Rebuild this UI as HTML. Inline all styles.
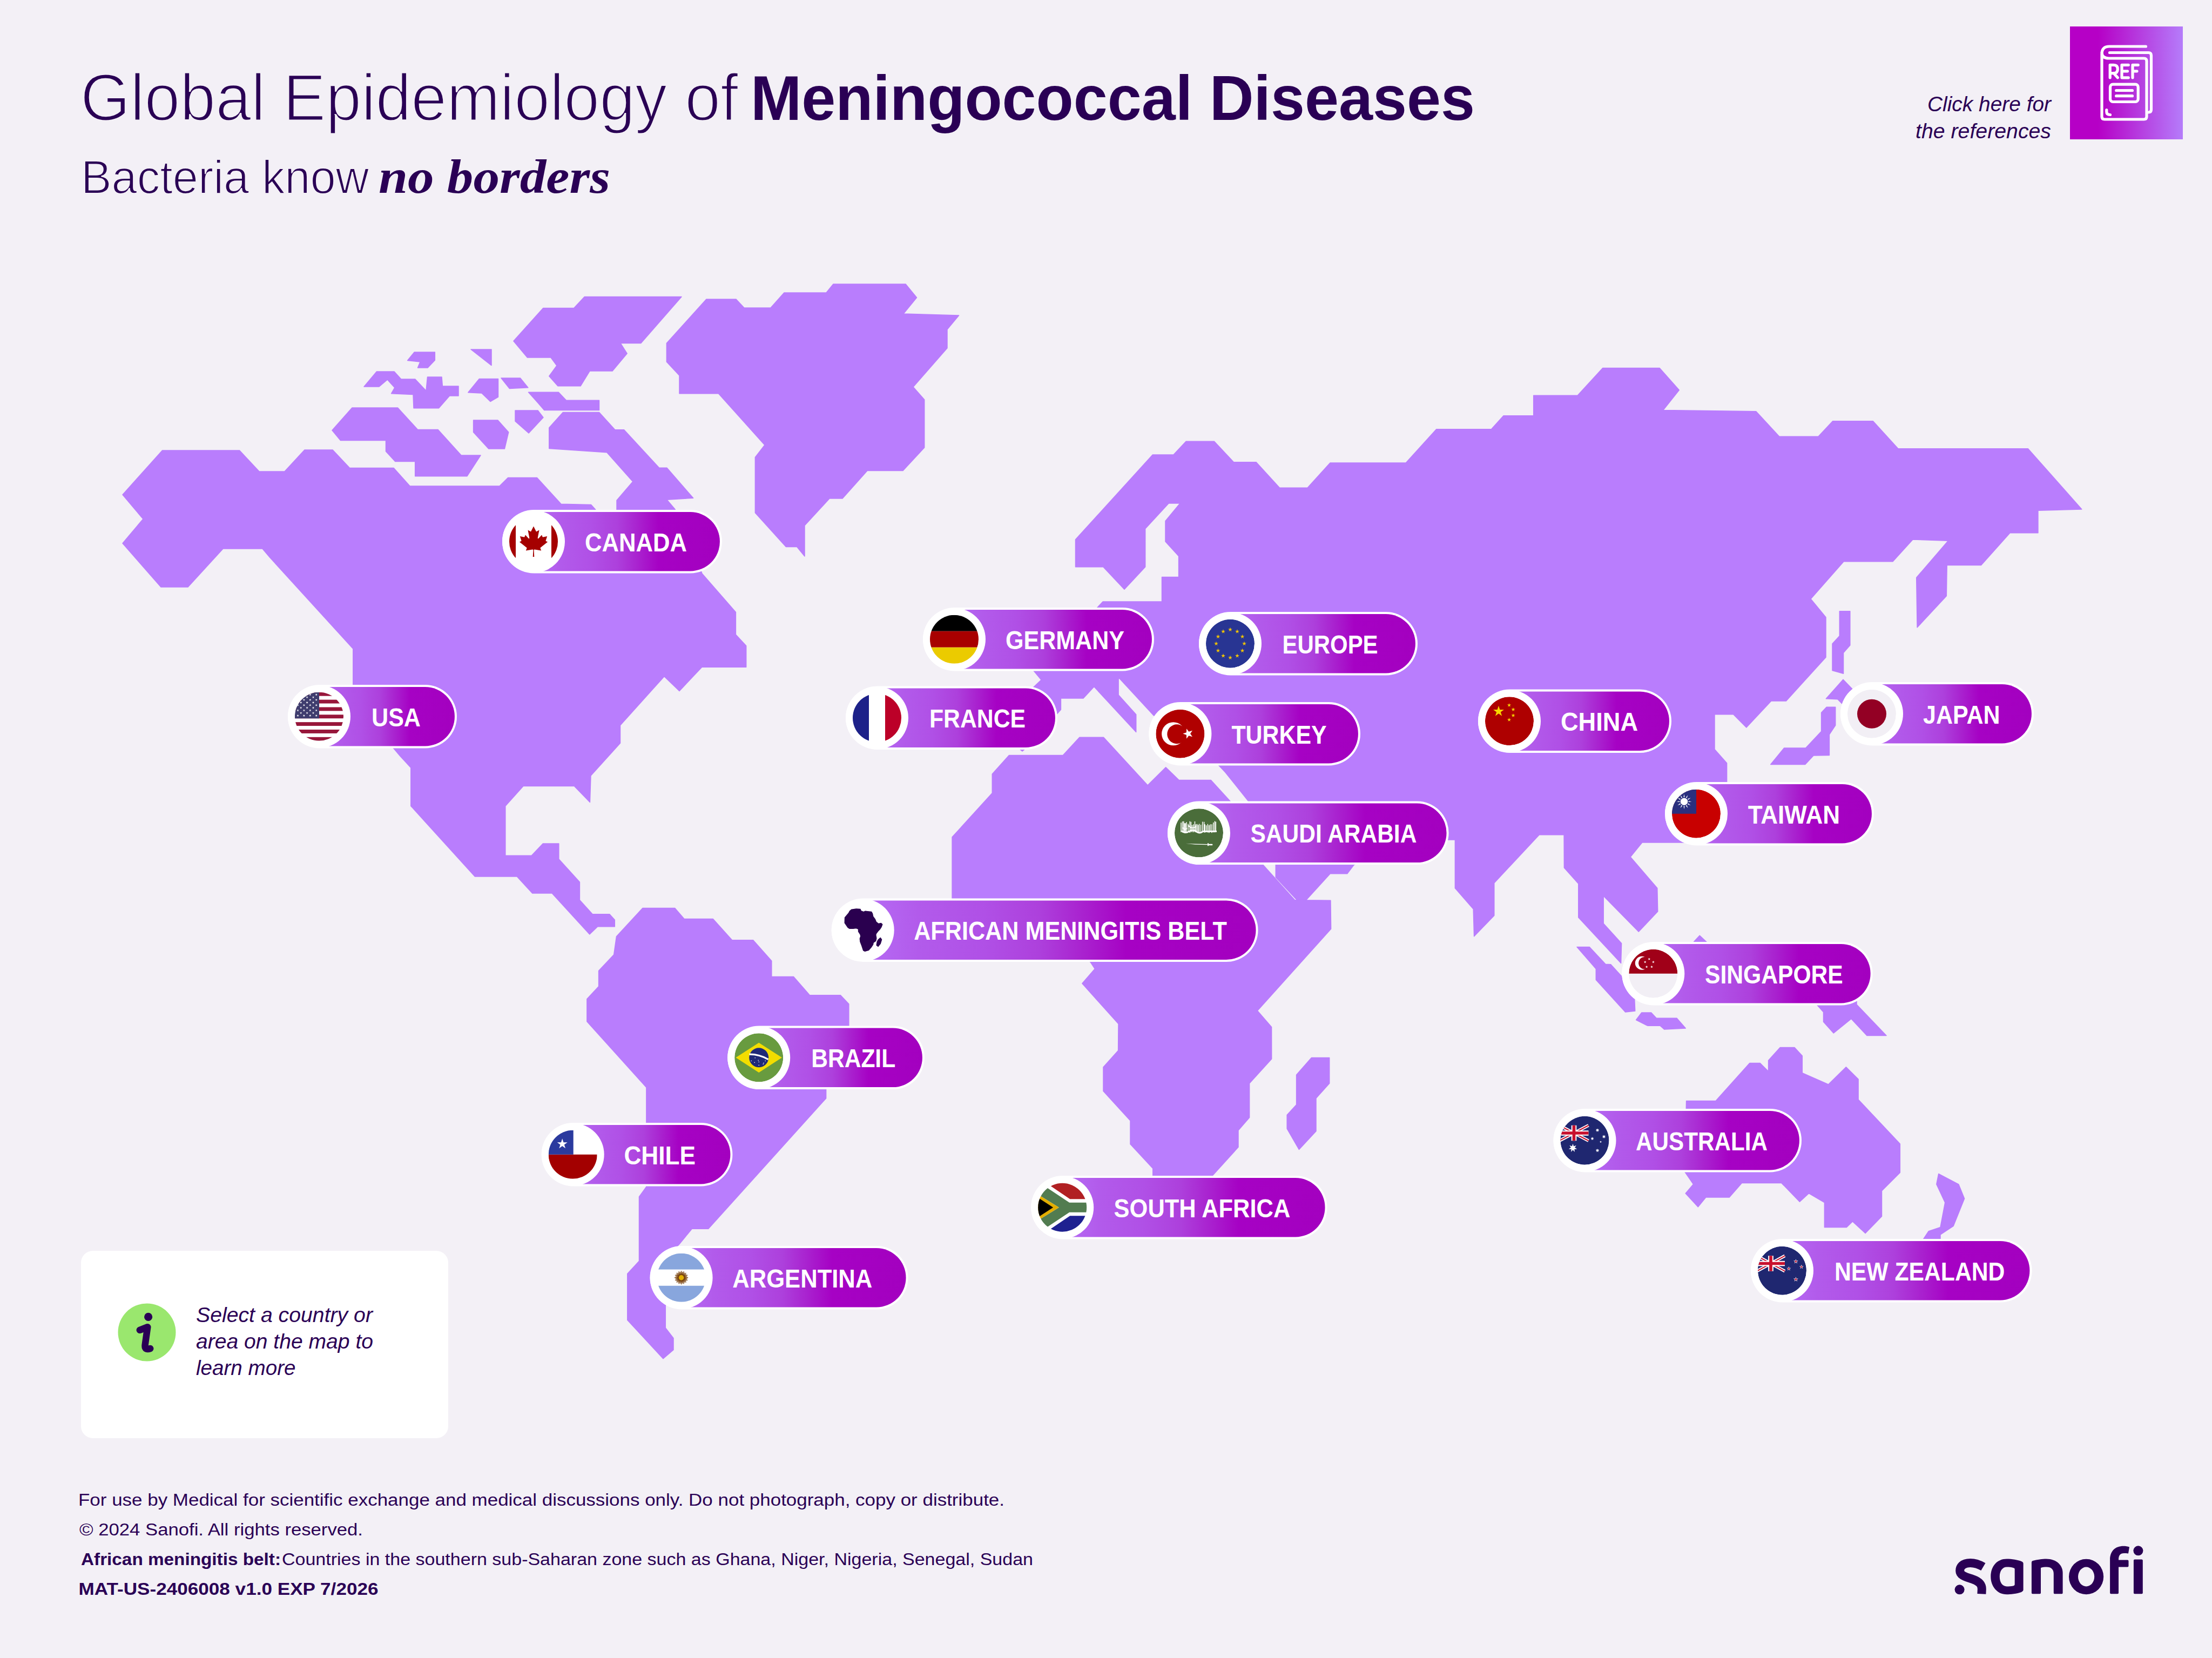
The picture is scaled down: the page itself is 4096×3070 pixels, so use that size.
<!DOCTYPE html>
<html><head><meta charset="utf-8"><title>Global Epidemiology of Meningococcal Diseases</title>
<style>
html,body{margin:0;padding:0;background:#F3F0F6;}
body{width:4096px;height:3070px;overflow:hidden;position:relative;font-family:"Liberation Sans",sans-serif;}
svg{position:absolute;left:0;top:0;display:block;}
</style></head><body>
<svg width="4096" height="3070" viewBox="0 0 4096 3070">
<defs>
<linearGradient id="pg" x1="0" y1="0" x2="1" y2="0">
<stop offset="0" stop-color="#B66CF5"/><stop offset="0.14" stop-color="#B25BEB"/><stop offset="0.31" stop-color="#B050E6"/><stop offset="0.45" stop-color="#AD40DC"/><stop offset="0.56" stop-color="#A922CF"/><stop offset="0.67" stop-color="#A602C4"/><stop offset="1" stop-color="#A300BF"/>
</linearGradient>
<linearGradient id="rg" x1="0" y1="0" x2="1" y2="0">
<stop offset="0" stop-color="#B600C6"/><stop offset="0.25" stop-color="#B600C6"/><stop offset="1" stop-color="#B57CFA"/>
</linearGradient>
<clipPath id="fc"><circle r="45"/></clipPath>
</defs>
<rect width="4096" height="3070" fill="#F3F0F6"/>

<text x="149" y="222.5" font-family="Liberation Sans" font-size="122" fill="#2A0055" stroke="#F3F0F6" stroke-width="3" textLength="1218" lengthAdjust="spacingAndGlyphs">Global Epidemiology of</text>
<text x="1390" y="222" font-family="Liberation Sans" font-weight="bold" font-size="116" fill="#2A0055" textLength="1341" lengthAdjust="spacingAndGlyphs">Meningococcal Diseases</text>
<text x="150" y="357.5" font-family="Liberation Sans" font-size="87" fill="#2A0055" stroke="#F3F0F6" stroke-width="2" textLength="533" lengthAdjust="spacingAndGlyphs">Bacteria know</text>
<text x="701" y="357" font-family="Liberation Serif" font-weight="bold" font-style="italic" font-size="88" fill="#2A0055" textLength="429" lengthAdjust="spacingAndGlyphs">no borders</text>
<text x="3569" y="205.5" font-family="Liberation Sans" font-style="italic" font-size="38" fill="#2A0055" textLength="229" lengthAdjust="spacingAndGlyphs">Click here for</text>
<text x="3547" y="255.5" font-family="Liberation Sans" font-style="italic" font-size="38" fill="#2A0055" textLength="251" lengthAdjust="spacingAndGlyphs">the references</text>
<rect x="3833" y="49" width="209" height="209" fill="url(#rg)"/>
<g fill="none" stroke="#fff" stroke-width="5.2" stroke-linecap="round" stroke-linejoin="round">
<path d="M3973.5 86 H3906 Q3892 86 3892 100 V216 Q3892 221 3897 221 H3970 Q3975 221 3975 216 V113 Q3975 108 3970 108 H3905 Q3892 108 3892 97"/>
<path d="M3906.5 97.5 H3978.5 Q3983.5 97.5 3983.5 102.5 V203 Q3983.5 208 3978.5 208"/>
<rect x="3907.5" y="156.2" width="51.7" height="32.3" rx="5"/>
<path d="M3918.7 167.5 H3948.5 M3918.7 177.7 H3948.5"/>
<path d="M3900.8 203.5 V207 Q3900.8 212.5 3907.5 212.5"/>
<path d="M3907.2 143.8 V120.3 H3914 Q3921.3 120.3 3921.3 128 Q3921.3 135.6 3914 135.6 H3907.2 M3914 135.6 L3921.3 143.8"/>
<path d="M3941.3 120.3 H3929 V143.8 H3941.3 M3929 131.8 H3939.5"/>
<path d="M3959.2 120.3 H3949 V143.8 M3949 131.8 H3957"/>
</g>
<path fill="#B97DFD" stroke="#B97DFD" stroke-width="1.5" stroke-linejoin="round" d="M227,916 L300.6,834 L443.5,834 L480,873 L527,873 L564,833 L616,833 L647.5,866.5 L729,866.5 L759,900 L925,900 L940.6,884.5 L994.4,884.5 L1039,933.3 L1094.5,934.5 L1102.6,943.5 L1110,960 L1142,960 L1142,943.5 L1142,926.4 L1171.8,891.8 L1123.8,837.7 L1016.8,830.4 L1016.8,792 L1042.4,763.6 L1109.5,763.6 L1138.8,795.8 L1155.5,795.8 L1220.6,866.2 L1234.9,866.2 L1283.7,922.3 L1234.9,925.2 L1248.7,941.4 L1262,960 L1300,1062 L1362.4,1133.5 L1362.4,1175 L1381.7,1195.7 L1381.7,1235.2 L1299.7,1235.2 L1258,1279.5 L1230,1252.4 L1148.5,1343 L1148.5,1376 L1094,1436.2 L1092.4,1485.4 L1063.3,1455.4 L969,1455.4 L935.8,1492.4 L935.8,1584.2 L984.2,1584.2 L1005.4,1562 L1034.8,1562 L1034.8,1590.8 L1073.4,1633.2 L1073.4,1666.5 L1097.2,1692.7 L1128.8,1692.7 L1138.3,1703.2 L1138.3,1715.8 L1106.6,1715.8 L1091.8,1730 L1022.2,1654.1 L985.8,1654.1 L957.3,1623.1 L879.4,1623.1 L760.8,1492.4 L760.8,1421.5 L741,1400 L729.8,1386.8 L653.8,1300 L653.8,1201.3 L500,1032.5 L486,1016 L413,1016 L348,1087 L298,1087 L227,1006 L265,961Z M652,755 L736.5,755 L773.5,795.6 L811,795.6 L854,843 L890,843 L865,881.7 L768.7,881.7 L768.7,854.6 L731.8,854.6 L714.5,835.7 L714.5,815.5 L630.5,815.5 L615,796.7Z M697.5,688 L730,688 L742.7,702 L768.7,702 L789,723.6 L791.5,698 L818,698 L819.4,715 L849,715 L849,733 L832.4,733 L812.5,755.8 L766,755.8 L765,730.5 L724.6,728.7 L730.8,717.8 L717.4,703 L702,716 L674,716Z M767.3,652 L805.3,652 L805.3,667 L792,681 L773.5,681 L778,670 L754.6,667.5Z M872,647 L910,647 L910,676.6Z M887.4,701.5 L922.5,701.5 L922.5,735 L908,743.5 L892,728 L866.8,726.8Z M928,700 L963.4,700 L977.8,717.8 L943.5,719.6Z M876.6,777.9 L921.8,777.9 L941.7,800.3 L934.4,831 L904.8,831 L876.6,800.3Z M954,760 L996,760 L1006,773 L979,802 L954,780Z M978.5,726.2 L1034.3,726.2 L1048.5,741.3 L1109.5,741.3 L1109.5,759.6 L1007.8,759.6 L996.4,746.2Z M1082.3,549.6 L1262,549.6 L1186.8,635.5 L1149,635.5 L1161.2,654.6 L1134,687 L1092,687 L1075,714.8 L1033,714.8 L1016.8,696.5 L1031,677 L1020,662 L976.5,662 L950.9,631.4 L1005.8,570.4 L1062.7,570.4Z M1308,554 L1363,554 L1378,570 L1427,570 L1452,542 L1530,542 L1543,526 L1677,526 L1697.5,551 L1673,581 L1775.6,584 L1754,610 L1754,644.4 L1691,716.5 L1711.7,740 L1711.7,828.7 L1672,871.5 L1606,871.5 L1560,923 L1536,923 L1490,973 L1490,1030 L1475.7,1012.6 L1455.4,1012.6 L1398.4,949.6 L1398.4,846.6 L1416,824 L1330.5,728.7 L1258,728.7 L1258,695.3 L1234.4,670 L1234.4,635.5Z M1991.5,999 L2134.4,842 L2173,842 L2196.2,817.2 L2248.4,817.2 L2284.5,855.8 L2326.1,855.7 L2369.5,903.2 L2421.1,903.2 L2463.1,857 L2603.3,857 L2659.8,794.7 L2761.5,794.7 L2784.1,769.8 L2839.7,769.8 L2839.7,732.3 L2921.2,732.3 L2967.8,681.6 L3073.1,681.6 L3109.3,722.3 L3079.9,759.4 L3251.7,761.7 L3294.7,808.2 L3367,808.2 L3393.7,779.7 L3468.3,779.7 L3514.8,830.8 L3755.3,830.8 L3854.8,943 L3773.9,945.2 L3773.9,986.8 L3721.9,986.8 L3668.5,1046.5 L3605.2,1046.5 L3604.3,1103.4 L3550.1,1161.8 L3548.7,1069.5 L3607.5,1001.3 L3542,999 L3504.9,1039.7 L3414,1039.7 L3353,1108.9 L3381,1143 L3381,1217 L3307.4,1297.9 L3279.7,1297.9 L3233.8,1346.9 L3209.7,1322.7 L3175,1322.7 L3175,1387.4 L3197.6,1413 L3197.6,1446.7 L3197.6,1500 L3130,1560.1 L3120.4,1560.1 L3040.8,1560.1 L3019.1,1586.7 L3068.8,1644.6 L3069.7,1687.8 L3034.4,1725.1 L2969.2,1658.9 L2969.2,1710 L3002.6,1746.7 L3001.6,1783.4 L2922.8,1698.8 L2922.8,1636.3 L2896.4,1606.8 L2896.1,1545.7 L2850.2,1545.7 L2766.8,1634.9 L2766.8,1695.2 L2729.6,1733.8 L2728.2,1683.2 L2694.4,1644.6 L2694.4,1555 L2660,1555 L2540,1590 L2507.4,1601 L2494.7,1617.8 L2463.1,1617.8 L2418.7,1666.4 L2401.5,1666.4 L2362.3,1624.4 L2362.3,1601 L2311.1,1482.7 L2268.9,1430 L2250,1410 L2136.3,1324.7 L2071.1,1254.2 L2071.1,1286.7 L2103.7,1323 L2103.7,1355.5 L2025.9,1271.5 L2006,1292.9 L1964.4,1292.9 L1964.4,1313.9 L1950,1330 L1906,1380 L1893,1391 L1880,1380 L1800,1340 L1880,1300 L1910,1276 L1928.2,1258.9 L1913.7,1241.5 L1900,1200 L2030,1127 L2042.2,1114.1 L2151.5,1114.1 L2151.5,1068.5 L2182.6,1068.5 L2182.6,1029.8 L2158,1002.7 L2158,964.7 L2185.1,932.1 L2164.1,932.1 L2120.7,979.1 L2120.7,1049.7 L2082,1091.3 L2042.9,1049.7 L1991.5,1049.7Z M1868.5,1398.4 L1968.3,1398.4 L1999,1365.2 L2043.5,1365.2 L2125.1,1454.1 L2158.7,1420.9 L2182.9,1444.4 L2242.3,1444.4 L2277.9,1483.6 L2338.5,1601 L2397.5,1666.4 L2463.9,1667.2 L2464.6,1720 L2328.4,1871.5 L2354.6,1901.8 L2354.7,1960.8 L2313.6,2006 L2313.6,2069.3 L2293,2093 L2293,2124 L2245,2176.9 L2245,2200 L2134.8,2200 L2134.8,2163.6 L2093,2118.4 L2093,2075 L2043,2020.3 L2043,1976 L2070.6,1945.3 L2071,1895.7 L2003.9,1821 L2027.3,1793.9 L2019,1781 L1900,1720 L1763.1,1700 L1763.1,1550.1 L1837.3,1468.4 L1837.3,1433.3Z M2428.5,1958.5 L2461.7,1958.5 L2461.7,2006 L2437,2033.5 L2437,2094.6 L2405.4,2128.5 L2383.2,2089.9 L2383.2,2064.6 L2400.6,2045.6 L2400.6,1990.2Z M1190,1681.5 L1249.7,1681.5 L1267,1701.6 L1320.3,1701.6 L1355.6,1740.7 L1394.6,1740.7 L1428.8,1779.2 L1428.8,1808.5 L1469.5,1808.5 L1499.4,1842.7 L1556.4,1842.7 L1571.8,1859 L1571.8,1902 L1529.6,1960 L1529.6,2033.7 L1311.7,2275.2 L1281.3,2275.2 L1257.7,2303.9 L1232.3,2330 L1232.3,2458.8 L1247,2477.8 L1247,2499.5 L1228,2515.8 L1161.8,2444.2 L1161.8,2358.4 L1183.5,2335 L1183.5,2216 L1196.9,2197.5 L1196.9,2013.4 L1086.9,1891.6 L1086.9,1849.8 L1108.6,1826.4 L1108.6,1797.6 L1136.7,1767.7 L1141.5,1733.9Z M3296.3,1939.5 L3322.9,1939.5 L3337.3,1955 L3337.3,1986.8 L3385.6,2008 L3418.4,1975.7 L3441.1,1998.4 L3441.1,2036 L3518.3,2118 L3518.3,2171.1 L3484.5,2204.9 L3484.5,2252.2 L3454.1,2283.5 L3430.4,2261.8 L3419.4,2272.4 L3378.4,2272.4 L3378.4,2226.6 L3349.4,2209.7 L3332.5,2225.2 L3298.7,2190.4 L3225.4,2190.4 L3202.2,2217 L3158.8,2217 L3144.3,2234.8 L3121.2,2209.7 L3135.6,2192.8 L3120,2170 L3122.6,2038.4 L3177.1,2038.4 L3239.9,1968.5 L3259.2,1968.5 L3274.6,1983.9 L3274.6,1963.6Z M3589.7,2173.5 L3626.8,2192.8 L3637.5,2219.4 L3617.2,2270 L3593,2286 L3593,2294.1 L3561.7,2294.1 L3571.3,2279.7 L3593,2272.4 L3601.7,2226.6 L3585.8,2192.8Z M3364,1830 L3438,1830 L3438,1860 L3493,1917.5 L3457,1917.5 L3428,1886.5 L3395.3,1913 L3376.5,1892 L3376.5,1874 L3364,1860Z M2920.1,1753.4 L2943.3,1753.4 L2973,1785.3 L2982.7,1785.7 L3002.6,1807.5 L3026.7,1849 L3027.7,1872.1 L3009.7,1874.1 L2955.3,1814.2 L2955.3,1794Z M3039.8,1875 L3057.6,1875 L3067.2,1885.3 L3104.9,1885.3 L3121.3,1904 L3081.7,1905.9 L3074,1899.2 L3050.8,1899.2 L3029.6,1888.5Z M3137.7,1742.4 L3147.3,1732.2 L3158,1742.4 L3200,1780 L3100,1790Z M3406.3,1131.8 L3425.8,1131.8 L3425.8,1194.8 L3413.5,1208.7 L3413.5,1247.3 L3393,1241.5 L3393,1191.9 L3406.3,1177.5Z M3413,1258.3 L3430.1,1276 L3440,1300 L3411,1303 L3402.8,1294.8 L3381.3,1293.8Z M3382.3,1309.2 L3398.7,1309.2 L3398.7,1343 L3387.4,1360 L3387.4,1398.4 L3358.1,1399 L3342.7,1415.4 L3278.7,1415.4 L3303.7,1385.1 L3343.7,1385.1 L3372.6,1354.3 L3372.6,1319.4Z"/>
<g>
<rect x="930" y="944" width="407.0" height="117.5" rx="58.75" fill="#fff"/>
<path d="M988,948 H1278.2 A54.75,54.75 0 0 1 1278.2,1057.5 H988 Z" fill="url(#pg)"/>
<circle cx="988" cy="1002.75" r="58" fill="#fff"/>
<g transform="translate(988,1002.75)" clip-path="url(#fc)"><circle r="45" fill="#fff"/><rect x="-45" y="-45" width="12" height="90" fill="#A50000"/><rect x="33" y="-45" width="12" height="90" fill="#A50000"/><path transform="scale(0.0140)" d="M0 -15 m-90 2030 45-863a95 95 0 0 0-111-98l-859 151 116-320a65 65 0 0 0-20-73l-941-762 212-99a65 65 0 0 0 34-79l-186-572 542 115a65 65 0 0 0 73-38l105-247 423 454a65 65 0 0 0 111-57l-204-1052 327 189a65 65 0 0 0 91-27l332-652 332 652a65 65 0 0 0 91 27l327-189-204 1052a65 65 0 0 0 111 57l423-454 105 247a65 65 0 0 0 73 38l542-115-186 572a65 65 0 0 0 34 79l212 99-941 762a65 65 0 0 0-20 73l116 320-859-151a95 95 0 0 0-111 98l45 863z" fill="#A50000"/></g>
<text x="1083.0" y="1020.5" font-family="Liberation Sans" font-weight="bold" font-size="48" fill="#fff" textLength="189.0" lengthAdjust="spacingAndGlyphs">CANADA</text>
</g>
<g>
<rect x="1709" y="1125" width="428.0" height="117.5" rx="58.75" fill="#fff"/>
<path d="M1767,1129 H2078.2 A54.75,54.75 0 0 1 2078.2,1238.5 H1767 Z" fill="url(#pg)"/>
<circle cx="1767" cy="1183.75" r="58" fill="#fff"/>
<g transform="translate(1767,1183.75)" clip-path="url(#fc)"><rect x="-45" y="-45" width="90" height="30" fill="#000"/><rect x="-45" y="-15" width="90" height="30" fill="#A80000"/><rect x="-45" y="15" width="90" height="30" fill="#EBCB00"/></g>
<text x="1862.0" y="1201.5" font-family="Liberation Sans" font-weight="bold" font-size="48" fill="#fff" textLength="220.0" lengthAdjust="spacingAndGlyphs">GERMANY</text>
</g>
<g>
<rect x="2220" y="1133" width="405.0" height="117.5" rx="58.75" fill="#fff"/>
<path d="M2278,1137 H2566.2 A54.75,54.75 0 0 1 2566.2,1246.5 H2278 Z" fill="url(#pg)"/>
<circle cx="2278" cy="1191.75" r="58" fill="#fff"/>
<g transform="translate(2278,1191.75)" clip-path="url(#fc)"><circle r="45" fill="#283593"/><path d="M0.00,-30.20 L0.94,-27.30 L3.99,-27.30 L1.53,-25.50 L2.47,-22.60 L0.00,-24.40 L-2.47,-22.60 L-1.53,-25.50 L-3.99,-27.30 L-0.94,-27.30Z" fill="#F2C500"/><path d="M13.00,-26.72 L13.94,-23.81 L16.99,-23.81 L14.53,-22.02 L15.47,-19.12 L13.00,-20.91 L10.53,-19.12 L11.47,-22.02 L9.01,-23.81 L12.06,-23.81Z" fill="#F2C500"/><path d="M22.52,-17.20 L23.46,-14.30 L26.51,-14.30 L24.04,-12.50 L24.99,-9.60 L22.52,-11.40 L20.05,-9.60 L20.99,-12.50 L18.52,-14.30 L21.57,-14.30Z" fill="#F2C500"/><path d="M26.00,-4.20 L26.94,-1.30 L29.99,-1.30 L27.53,0.50 L28.47,3.40 L26.00,1.60 L23.53,3.40 L24.47,0.50 L22.01,-1.30 L25.06,-1.30Z" fill="#F2C500"/><path d="M22.52,8.80 L23.46,11.70 L26.51,11.70 L24.04,13.50 L24.99,16.40 L22.52,14.60 L20.05,16.40 L20.99,13.50 L18.52,11.70 L21.57,11.70Z" fill="#F2C500"/><path d="M13.00,18.32 L13.94,21.22 L16.99,21.22 L14.53,23.01 L15.47,25.91 L13.00,24.12 L10.53,25.91 L11.47,23.01 L9.01,21.22 L12.06,21.22Z" fill="#F2C500"/><path d="M0.00,21.80 L0.94,24.70 L3.99,24.70 L1.53,26.50 L2.47,29.40 L0.00,27.60 L-2.47,29.40 L-1.53,26.50 L-3.99,24.70 L-0.94,24.70Z" fill="#F2C500"/><path d="M-13.00,18.32 L-12.06,21.22 L-9.01,21.22 L-11.47,23.01 L-10.53,25.91 L-13.00,24.12 L-15.47,25.91 L-14.53,23.01 L-16.99,21.22 L-13.94,21.22Z" fill="#F2C500"/><path d="M-22.52,8.80 L-21.57,11.70 L-18.52,11.70 L-20.99,13.50 L-20.05,16.40 L-22.52,14.60 L-24.99,16.40 L-24.04,13.50 L-26.51,11.70 L-23.46,11.70Z" fill="#F2C500"/><path d="M-26.00,-4.20 L-25.06,-1.30 L-22.01,-1.30 L-24.47,0.50 L-23.53,3.40 L-26.00,1.60 L-28.47,3.40 L-27.53,0.50 L-29.99,-1.30 L-26.94,-1.30Z" fill="#F2C500"/><path d="M-22.52,-17.20 L-21.57,-14.30 L-18.52,-14.30 L-20.99,-12.50 L-20.05,-9.60 L-22.52,-11.40 L-24.99,-9.60 L-24.04,-12.50 L-26.51,-14.30 L-23.46,-14.30Z" fill="#F2C500"/><path d="M-13.00,-26.72 L-12.06,-23.81 L-9.01,-23.81 L-11.47,-22.02 L-10.53,-19.12 L-13.00,-20.91 L-15.47,-19.12 L-14.53,-22.02 L-16.99,-23.81 L-13.94,-23.81Z" fill="#F2C500"/></g>
<text x="2374.5" y="1209.5" font-family="Liberation Sans" font-weight="bold" font-size="48" fill="#fff" textLength="177.1" lengthAdjust="spacingAndGlyphs">EUROPE</text>
</g>
<g>
<rect x="533" y="1268" width="313.0" height="117.5" rx="58.75" fill="#fff"/>
<path d="M591,1272 H787.2 A54.75,54.75 0 0 1 787.2,1381.5 H591 Z" fill="url(#pg)"/>
<circle cx="591" cy="1326.75" r="58" fill="#fff"/>
<g transform="translate(591,1326.75)" clip-path="url(#fc)"><rect x="-45" y="-45" width="90" height="90" fill="#fff"/><rect x="-45" y="-45.00" width="90" height="6.92" fill="#97163A"/><rect x="-45" y="-31.15" width="90" height="6.92" fill="#97163A"/><rect x="-45" y="-17.31" width="90" height="6.92" fill="#97163A"/><rect x="-45" y="-3.46" width="90" height="6.92" fill="#97163A"/><rect x="-45" y="10.38" width="90" height="6.92" fill="#97163A"/><rect x="-45" y="24.23" width="90" height="6.92" fill="#97163A"/><rect x="-45" y="38.08" width="90" height="6.92" fill="#97163A"/><rect x="-45" y="-45" width="45" height="48.5" fill="#3F3D6E"/><path d="M-39.50,-42.80 L-38.98,-41.21 L-37.31,-41.21 L-38.66,-40.23 L-38.15,-38.64 L-39.50,-39.62 L-40.85,-38.64 L-40.34,-40.23 L-41.69,-41.21 L-40.02,-41.21Z" fill="#fff"/><path d="M-28.10,-42.80 L-27.58,-41.21 L-25.91,-41.21 L-27.26,-40.23 L-26.75,-38.64 L-28.10,-39.62 L-29.45,-38.64 L-28.94,-40.23 L-30.29,-41.21 L-28.62,-41.21Z" fill="#fff"/><path d="M-16.70,-42.80 L-16.18,-41.21 L-14.51,-41.21 L-15.86,-40.23 L-15.35,-38.64 L-16.70,-39.62 L-18.05,-38.64 L-17.54,-40.23 L-18.89,-41.21 L-17.22,-41.21Z" fill="#fff"/><path d="M-5.30,-42.80 L-4.78,-41.21 L-3.11,-41.21 L-4.46,-40.23 L-3.95,-38.64 L-5.30,-39.62 L-6.65,-38.64 L-6.14,-40.23 L-7.49,-41.21 L-5.82,-41.21Z" fill="#fff"/><path d="M-33.80,-37.95 L-33.28,-36.36 L-31.61,-36.36 L-32.96,-35.38 L-32.45,-33.79 L-33.80,-34.77 L-35.15,-33.79 L-34.64,-35.38 L-35.99,-36.36 L-34.32,-36.36Z" fill="#fff"/><path d="M-22.40,-37.95 L-21.88,-36.36 L-20.21,-36.36 L-21.56,-35.38 L-21.05,-33.79 L-22.40,-34.77 L-23.75,-33.79 L-23.24,-35.38 L-24.59,-36.36 L-22.92,-36.36Z" fill="#fff"/><path d="M-11.00,-37.95 L-10.48,-36.36 L-8.81,-36.36 L-10.16,-35.38 L-9.65,-33.79 L-11.00,-34.77 L-12.35,-33.79 L-11.84,-35.38 L-13.19,-36.36 L-11.52,-36.36Z" fill="#fff"/><path d="M-39.50,-33.10 L-38.98,-31.51 L-37.31,-31.51 L-38.66,-30.53 L-38.15,-28.94 L-39.50,-29.92 L-40.85,-28.94 L-40.34,-30.53 L-41.69,-31.51 L-40.02,-31.51Z" fill="#fff"/><path d="M-28.10,-33.10 L-27.58,-31.51 L-25.91,-31.51 L-27.26,-30.53 L-26.75,-28.94 L-28.10,-29.92 L-29.45,-28.94 L-28.94,-30.53 L-30.29,-31.51 L-28.62,-31.51Z" fill="#fff"/><path d="M-16.70,-33.10 L-16.18,-31.51 L-14.51,-31.51 L-15.86,-30.53 L-15.35,-28.94 L-16.70,-29.92 L-18.05,-28.94 L-17.54,-30.53 L-18.89,-31.51 L-17.22,-31.51Z" fill="#fff"/><path d="M-5.30,-33.10 L-4.78,-31.51 L-3.11,-31.51 L-4.46,-30.53 L-3.95,-28.94 L-5.30,-29.92 L-6.65,-28.94 L-6.14,-30.53 L-7.49,-31.51 L-5.82,-31.51Z" fill="#fff"/><path d="M-33.80,-28.25 L-33.28,-26.66 L-31.61,-26.66 L-32.96,-25.68 L-32.45,-24.09 L-33.80,-25.07 L-35.15,-24.09 L-34.64,-25.68 L-35.99,-26.66 L-34.32,-26.66Z" fill="#fff"/><path d="M-22.40,-28.25 L-21.88,-26.66 L-20.21,-26.66 L-21.56,-25.68 L-21.05,-24.09 L-22.40,-25.07 L-23.75,-24.09 L-23.24,-25.68 L-24.59,-26.66 L-22.92,-26.66Z" fill="#fff"/><path d="M-11.00,-28.25 L-10.48,-26.66 L-8.81,-26.66 L-10.16,-25.68 L-9.65,-24.09 L-11.00,-25.07 L-12.35,-24.09 L-11.84,-25.68 L-13.19,-26.66 L-11.52,-26.66Z" fill="#fff"/><path d="M-39.50,-23.40 L-38.98,-21.81 L-37.31,-21.81 L-38.66,-20.83 L-38.15,-19.24 L-39.50,-20.22 L-40.85,-19.24 L-40.34,-20.83 L-41.69,-21.81 L-40.02,-21.81Z" fill="#fff"/><path d="M-28.10,-23.40 L-27.58,-21.81 L-25.91,-21.81 L-27.26,-20.83 L-26.75,-19.24 L-28.10,-20.22 L-29.45,-19.24 L-28.94,-20.83 L-30.29,-21.81 L-28.62,-21.81Z" fill="#fff"/><path d="M-16.70,-23.40 L-16.18,-21.81 L-14.51,-21.81 L-15.86,-20.83 L-15.35,-19.24 L-16.70,-20.22 L-18.05,-19.24 L-17.54,-20.83 L-18.89,-21.81 L-17.22,-21.81Z" fill="#fff"/><path d="M-5.30,-23.40 L-4.78,-21.81 L-3.11,-21.81 L-4.46,-20.83 L-3.95,-19.24 L-5.30,-20.22 L-6.65,-19.24 L-6.14,-20.83 L-7.49,-21.81 L-5.82,-21.81Z" fill="#fff"/><path d="M-33.80,-18.55 L-33.28,-16.96 L-31.61,-16.96 L-32.96,-15.98 L-32.45,-14.39 L-33.80,-15.37 L-35.15,-14.39 L-34.64,-15.98 L-35.99,-16.96 L-34.32,-16.96Z" fill="#fff"/><path d="M-22.40,-18.55 L-21.88,-16.96 L-20.21,-16.96 L-21.56,-15.98 L-21.05,-14.39 L-22.40,-15.37 L-23.75,-14.39 L-23.24,-15.98 L-24.59,-16.96 L-22.92,-16.96Z" fill="#fff"/><path d="M-11.00,-18.55 L-10.48,-16.96 L-8.81,-16.96 L-10.16,-15.98 L-9.65,-14.39 L-11.00,-15.37 L-12.35,-14.39 L-11.84,-15.98 L-13.19,-16.96 L-11.52,-16.96Z" fill="#fff"/><path d="M-39.50,-13.70 L-38.98,-12.11 L-37.31,-12.11 L-38.66,-11.13 L-38.15,-9.54 L-39.50,-10.52 L-40.85,-9.54 L-40.34,-11.13 L-41.69,-12.11 L-40.02,-12.11Z" fill="#fff"/><path d="M-28.10,-13.70 L-27.58,-12.11 L-25.91,-12.11 L-27.26,-11.13 L-26.75,-9.54 L-28.10,-10.52 L-29.45,-9.54 L-28.94,-11.13 L-30.29,-12.11 L-28.62,-12.11Z" fill="#fff"/><path d="M-16.70,-13.70 L-16.18,-12.11 L-14.51,-12.11 L-15.86,-11.13 L-15.35,-9.54 L-16.70,-10.52 L-18.05,-9.54 L-17.54,-11.13 L-18.89,-12.11 L-17.22,-12.11Z" fill="#fff"/><path d="M-5.30,-13.70 L-4.78,-12.11 L-3.11,-12.11 L-4.46,-11.13 L-3.95,-9.54 L-5.30,-10.52 L-6.65,-9.54 L-6.14,-11.13 L-7.49,-12.11 L-5.82,-12.11Z" fill="#fff"/><path d="M-33.80,-8.85 L-33.28,-7.26 L-31.61,-7.26 L-32.96,-6.28 L-32.45,-4.69 L-33.80,-5.67 L-35.15,-4.69 L-34.64,-6.28 L-35.99,-7.26 L-34.32,-7.26Z" fill="#fff"/><path d="M-22.40,-8.85 L-21.88,-7.26 L-20.21,-7.26 L-21.56,-6.28 L-21.05,-4.69 L-22.40,-5.67 L-23.75,-4.69 L-23.24,-6.28 L-24.59,-7.26 L-22.92,-7.26Z" fill="#fff"/><path d="M-11.00,-8.85 L-10.48,-7.26 L-8.81,-7.26 L-10.16,-6.28 L-9.65,-4.69 L-11.00,-5.67 L-12.35,-4.69 L-11.84,-6.28 L-13.19,-7.26 L-11.52,-7.26Z" fill="#fff"/><path d="M-39.50,-4.00 L-38.98,-2.41 L-37.31,-2.41 L-38.66,-1.43 L-38.15,0.16 L-39.50,-0.82 L-40.85,0.16 L-40.34,-1.43 L-41.69,-2.41 L-40.02,-2.41Z" fill="#fff"/><path d="M-28.10,-4.00 L-27.58,-2.41 L-25.91,-2.41 L-27.26,-1.43 L-26.75,0.16 L-28.10,-0.82 L-29.45,0.16 L-28.94,-1.43 L-30.29,-2.41 L-28.62,-2.41Z" fill="#fff"/><path d="M-16.70,-4.00 L-16.18,-2.41 L-14.51,-2.41 L-15.86,-1.43 L-15.35,0.16 L-16.70,-0.82 L-18.05,0.16 L-17.54,-1.43 L-18.89,-2.41 L-17.22,-2.41Z" fill="#fff"/><path d="M-5.30,-4.00 L-4.78,-2.41 L-3.11,-2.41 L-4.46,-1.43 L-3.95,0.16 L-5.30,-0.82 L-6.65,0.16 L-6.14,-1.43 L-7.49,-2.41 L-5.82,-2.41Z" fill="#fff"/></g>
<text x="688.0" y="1344.5" font-family="Liberation Sans" font-weight="bold" font-size="48" fill="#fff" textLength="91.0" lengthAdjust="spacingAndGlyphs">USA</text>
</g>
<g>
<rect x="1566" y="1270.5" width="392.0" height="117.5" rx="58.75" fill="#fff"/>
<path d="M1624,1274.5 H1899.2 A54.75,54.75 0 0 1 1899.2,1384.0 H1624 Z" fill="url(#pg)"/>
<circle cx="1624" cy="1329.25" r="58" fill="#fff"/>
<g transform="translate(1624,1329.25)" clip-path="url(#fc)"><rect x="-45" y="-45" width="30" height="90" fill="#1D2189"/><rect x="-15" y="-45" width="30" height="90" fill="#fff"/><rect x="15" y="-45" width="30" height="90" fill="#BC0028"/></g>
<text x="1721.0" y="1347.0" font-family="Liberation Sans" font-weight="bold" font-size="48" fill="#fff" textLength="178.0" lengthAdjust="spacingAndGlyphs">FRANCE</text>
</g>
<g>
<rect x="2127.4" y="1300" width="391.6" height="117.5" rx="58.75" fill="#fff"/>
<path d="M2185.4,1304 H2460.2 A54.75,54.75 0 0 1 2460.2,1413.5 H2185.4 Z" fill="url(#pg)"/>
<circle cx="2185.4" cy="1358.75" r="58" fill="#fff"/>
<g transform="translate(2185.4,1358.75)" clip-path="url(#fc)"><circle r="45" fill="#B00000"/><circle cx="-12.7" cy="0" r="21.6" fill="#fff"/><circle cx="-6.2" cy="0.5" r="17.9" fill="#B00000"/><path d="M4.90,-0.30 L11.54,-2.59 L11.67,-9.62 L15.91,-4.01 L22.63,-6.06 L18.60,-0.30 L22.63,5.46 L15.91,3.41 L11.67,9.02 L11.54,1.99Z" fill="#fff"/></g>
<text x="2280.4" y="1376.5" font-family="Liberation Sans" font-weight="bold" font-size="48" fill="#fff" textLength="176.2" lengthAdjust="spacingAndGlyphs">TURKEY</text>
</g>
<g>
<rect x="2737" y="1276.5" width="358.0" height="117.5" rx="58.75" fill="#fff"/>
<path d="M2795,1280.5 H3036.2 A54.75,54.75 0 0 1 3036.2,1390.0 H2795 Z" fill="url(#pg)"/>
<circle cx="2795" cy="1335.25" r="58" fill="#fff"/>
<g transform="translate(2795,1335.25)" clip-path="url(#fc)"><circle r="45" fill="#AE0000"/><path d="M-20.00,-28.50 L-17.64,-21.24 L-10.01,-21.24 L-16.19,-16.76 L-13.83,-9.51 L-20.00,-13.99 L-26.17,-9.51 L-23.81,-16.76 L-29.99,-21.24 L-22.36,-21.24Z" fill="#F7D600"/><path d="M-0.50,-33.30 L0.35,-30.67 L3.11,-30.67 L0.88,-29.05 L1.73,-26.43 L-0.50,-28.05 L-2.73,-26.43 L-1.88,-29.05 L-4.11,-30.67 L-1.35,-30.67Z" fill="#F7D600"/><path d="M7.00,-25.30 L7.85,-22.67 L10.61,-22.67 L8.38,-21.05 L9.23,-18.43 L7.00,-20.05 L4.77,-18.43 L5.62,-21.05 L3.39,-22.67 L6.15,-22.67Z" fill="#F7D600"/><path d="M7.00,-14.30 L7.85,-11.67 L10.61,-11.67 L8.38,-10.05 L9.23,-7.43 L7.00,-9.05 L4.77,-7.43 L5.62,-10.05 L3.39,-11.67 L6.15,-11.67Z" fill="#F7D600"/><path d="M-0.50,-6.30 L0.35,-3.67 L3.11,-3.67 L0.88,-2.05 L1.73,0.57 L-0.50,-1.05 L-2.73,0.57 L-1.88,-2.05 L-4.11,-3.67 L-1.35,-3.67Z" fill="#F7D600"/></g>
<text x="2890.0" y="1353.0" font-family="Liberation Sans" font-weight="bold" font-size="48" fill="#fff" textLength="143.0" lengthAdjust="spacingAndGlyphs">CHINA</text>
</g>
<g>
<rect x="3408" y="1263" width="358.0" height="117.5" rx="58.75" fill="#fff"/>
<path d="M3466,1267 H3707.2 A54.75,54.75 0 0 1 3707.2,1376.5 H3466 Z" fill="url(#pg)"/>
<circle cx="3466" cy="1321.75" r="58" fill="#fff"/>
<g transform="translate(3466,1321.75)" clip-path="url(#fc)"><circle r="45" fill="#F2EFF5"/><circle r="27" fill="#930024"/></g>
<text x="3561.0" y="1339.5" font-family="Liberation Sans" font-weight="bold" font-size="48" fill="#fff" textLength="142.5" lengthAdjust="spacingAndGlyphs">JAPAN</text>
</g>
<g>
<rect x="3083" y="1448" width="387.0" height="117.5" rx="58.75" fill="#fff"/>
<path d="M3141,1452 H3411.2 A54.75,54.75 0 0 1 3411.2,1561.5 H3141 Z" fill="url(#pg)"/>
<circle cx="3141" cy="1506.75" r="58" fill="#fff"/>
<g transform="translate(3141,1506.75)" clip-path="url(#fc)"><circle r="45" fill="#C80000"/><rect x="-45" y="-45" width="45" height="45" fill="#2A2F7E"/><path d="M-8.50,-22.50 L-14.58,-23.61 L-14.58,-21.39Z M-10.38,-15.50 L-15.08,-19.50 L-16.20,-17.57Z M-15.50,-10.38 L-17.57,-16.20 L-19.50,-15.08Z M-22.50,-8.50 L-21.39,-14.58 L-23.61,-14.58Z M-29.50,-10.38 L-25.50,-15.08 L-27.43,-16.20Z M-34.62,-15.50 L-28.80,-17.57 L-29.92,-19.50Z M-36.50,-22.50 L-30.42,-21.39 L-30.42,-23.61Z M-34.62,-29.50 L-29.92,-25.50 L-28.80,-27.43Z M-29.50,-34.62 L-27.43,-28.80 L-25.50,-29.92Z M-22.50,-36.50 L-23.61,-30.42 L-21.39,-30.42Z M-15.50,-34.62 L-19.50,-29.92 L-17.57,-28.80Z M-10.38,-29.50 L-16.20,-27.43 L-15.08,-25.50Z" fill="#fff"/><circle cx="-22.5" cy="-22.5" r="8.2" fill="#2A2F7E"/><circle cx="-22.5" cy="-22.5" r="6.8" fill="#fff"/></g>
<text x="3236.7" y="1524.5" font-family="Liberation Sans" font-weight="bold" font-size="48" fill="#fff" textLength="170.3" lengthAdjust="spacingAndGlyphs">TAIWAN</text>
</g>
<g>
<rect x="2162" y="1483.6" width="520.6" height="117.5" rx="58.75" fill="#fff"/>
<path d="M2220,1487.6 H2623.8 A54.75,54.75 0 0 1 2623.8,1597.1 H2220 Z" fill="url(#pg)"/>
<circle cx="2220" cy="1542.35" r="58" fill="#fff"/>
<g transform="translate(2220,1542.35)" clip-path="url(#fc)"><circle r="45" fill="#4A6D3A"/><path d="M-33.0 -19.1 V-1.7 M-30.4 -21.3 V-0.9 M-28.2 -21.5 V-1.0 M-26.5 -18.1 V-1.9 M-24.8 -18.2 V-0.3 M-23.0 -20.0 V-0.7 M-19.9 -16.8 V-1.2 M-16.7 -21.6 V-0.3 M-14.6 -20.7 V-1.8 M-12.5 -14.7 V-1.6 M-10.0 -16.2 V-1.3 M-7.5 -21.4 V-1.9 M-5.6 -15.9 V-1.1 M-3.5 -16.7 V-1.1 M-1.4 -14.9 V-0.6 M0.6 -16.8 V-0.9 M3.6 -15.4 V-1.4 M6.7 -20.9 V-1.2 M9.6 -20.6 V-1.0 M11.2 -16.0 V-0.5 M13.7 -14.1 V-1.4 M16.4 -16.7 V-0.8 M18.8 -14.4 V-0.1 M21.1 -16.0 V-1.9 M23.9 -16.2 V-0.0 M26.8 -19.4 V-1.2 M29.4 -21.8 V-1.1 M31.3 -20.9 V-1.9" stroke="#fff" stroke-width="1.5" fill="none"/><path d="M-32 -4 Q-26 2 -18 -3 Q-10 -8 -4 -2 Q2 2 8 -3 L33 -3" stroke="#fff" stroke-width="2.6" fill="none"/><path d="M-20 -14 Q-12 -6 -5 -12 M-30 -10 Q-26 -4 -22 -9" stroke="#fff" stroke-width="2" fill="none"/><path d="M-24.5 19.5 Q-10 20.6 16 20.6 L16 19 L18 19 L18 20.4 L25 20.4 Q26 21.5 25 23 L18 23 L18 23.8 L16 23.8 L16 22 Q-10 22 -24.5 19.5 Z" fill="#fff"/></g>
<text x="2315.4" y="1560.1" font-family="Liberation Sans" font-weight="bold" font-size="48" fill="#fff" textLength="308.0" lengthAdjust="spacingAndGlyphs">SAUDI ARABIA</text>
</g>
<g>
<rect x="1539.7" y="1663.5" width="789.9" height="117.5" rx="58.75" fill="#fff"/>
<path d="M1597.7,1667.5 H2270.8 A54.75,54.75 0 0 1 2270.8,1777.0 H1597.7 Z" fill="url(#pg)"/>
<circle cx="1597.7" cy="1722.25" r="58" fill="#fff"/>
<g transform="translate(1597.7,1722.25)" clip-path="url(#fc)"><circle r="45" fill="#fff"/><path d="M-20.7,-38.1 L-12.1,-39.3 L-4.7,-38.7 L-3.5,-35.6 L1.6,-33.6 L4.5,-35 L15.9,-33.8 L17.9,-30.1 L18.8,-25.4 L22.8,-19.7 L24.6,-15.2 L29.1,-11.7 L33.7,-12.8 L36,-10.6 L34.3,-6 L31.4,-1.4 L28,2.1 L24.6,6.6 L24,8.9 L25.1,15.2 L24,19.8 L19.4,23.2 L18.8,26.7 L15.4,31.8 L10.8,37 L3.9,39 L1,37.5 L-1.8,29 L-4.7,21.5 L-5.3,15.8 L-3.8,11.2 L-4.7,7.8 L-8.1,2.6 L-8.1,-2 L-12.1,-3.7 L-17.8,-3.1 L-24.8,-3.1 L-27.6,-4.8 L-33.4,-13.4 L-33.1,-23.2 L-25.9,-31.8 L-24.2,-35.2Z" fill="#2A004F" stroke="#2A004F" stroke-width="1.5" stroke-linejoin="round"/><path d="M32.5,14.3 L34.8,17.5 L32.5,25 L28.4,30.1 L25.5,27.8 L26.6,21.5 L28.4,18.1Z" fill="#2A004F" stroke="#2A004F" stroke-width="1.5" stroke-linejoin="round"/></g>
<text x="1692.2" y="1740.0" font-family="Liberation Sans" font-weight="bold" font-size="48" fill="#fff" textLength="579.6" lengthAdjust="spacingAndGlyphs">AFRICAN MENINGITIS BELT</text>
</g>
<g>
<rect x="3003.3" y="1744" width="464.4" height="117.5" rx="58.75" fill="#fff"/>
<path d="M3061.3,1748 H3408.9 A54.75,54.75 0 0 1 3408.9,1857.5 H3061.3 Z" fill="url(#pg)"/>
<circle cx="3061.3" cy="1802.75" r="58" fill="#fff"/>
<g transform="translate(3061.3,1802.75)" clip-path="url(#fc)"><circle r="45" fill="#F2EFF5"/><path d="M-45 0 A45 45 0 0 1 45 0 Z" fill="#A00018"/><circle cx="-21" cy="-19.5" r="12.5" fill="#fff"/><circle cx="-16" cy="-19.5" r="11.2" fill="#A00018"/><path d="M-7.50,-29.60 L-6.92,-27.80 L-5.03,-27.80 L-6.56,-26.69 L-5.97,-24.90 L-7.50,-26.01 L-9.03,-24.90 L-8.44,-26.69 L-9.97,-27.80 L-8.08,-27.80Z" fill="#fff"/><path d="M0.11,-24.07 L0.69,-22.28 L2.58,-22.28 L1.05,-21.17 L1.64,-19.37 L0.11,-20.48 L-1.42,-19.37 L-0.84,-21.17 L-2.36,-22.28 L-0.48,-22.28Z" fill="#fff"/><path d="M-2.80,-15.13 L-2.21,-13.33 L-0.32,-13.33 L-1.85,-12.22 L-1.27,-10.42 L-2.80,-11.53 L-4.33,-10.42 L-3.74,-12.22 L-5.27,-13.33 L-3.38,-13.33Z" fill="#fff"/><path d="M-12.20,-15.13 L-11.62,-13.33 L-9.73,-13.33 L-11.26,-12.22 L-10.67,-10.42 L-12.20,-11.53 L-13.73,-10.42 L-13.15,-12.22 L-14.68,-13.33 L-12.79,-13.33Z" fill="#fff"/><path d="M-15.11,-24.07 L-14.52,-22.28 L-12.64,-22.28 L-14.16,-21.17 L-13.58,-19.37 L-15.11,-20.48 L-16.64,-19.37 L-16.05,-21.17 L-17.58,-22.28 L-15.69,-22.28Z" fill="#fff"/></g>
<text x="3157.0" y="1820.5" font-family="Liberation Sans" font-weight="bold" font-size="48" fill="#fff" textLength="255.8" lengthAdjust="spacingAndGlyphs">SINGAPORE</text>
</g>
<g>
<rect x="1347.2" y="1899.6" width="364.8" height="117.5" rx="58.75" fill="#fff"/>
<path d="M1405.2,1903.6 H1653.2 A54.75,54.75 0 0 1 1653.2,2013.1 H1405.2 Z" fill="url(#pg)"/>
<circle cx="1405.2" cy="1958.35" r="58" fill="#fff"/>
<g transform="translate(1405.2,1958.35)" clip-path="url(#fc)"><circle r="45" fill="#689B3F"/><path d="M-42.7 0 L0 -27.5 L42.7 0 L0 27.7 Z" fill="#F2DD00"/><circle r="18" fill="#1F2A78"/><path d="M-17.6 -6.2 Q0 -6.5 17.4 3.2" stroke="#fff" stroke-width="3.2" fill="none"/><g fill="#fff"><circle cx="-7" cy="0.5" r="0.8"/><circle cx="-1" cy="5" r="0.8"/><circle cx="-8" cy="9" r="0.8"/><circle cx="0" cy="8" r="0.8"/><circle cx="9" cy="10" r="0.8"/><circle cx="12" cy="6" r="0.8"/><circle cx="-14" cy="6" r="0.8"/><circle cx="0" cy="14" r="0.8"/><circle cx="8" cy="12" r="0.8"/></g></g>
<text x="1502.2" y="1976.1" font-family="Liberation Sans" font-weight="bold" font-size="48" fill="#fff" textLength="156.0" lengthAdjust="spacingAndGlyphs">BRAZIL</text>
</g>
<g>
<rect x="1002.7" y="2079" width="353.7" height="117.5" rx="58.75" fill="#fff"/>
<path d="M1060.7,2083 H1297.7 A54.75,54.75 0 0 1 1297.7,2192.5 H1060.7 Z" fill="url(#pg)"/>
<circle cx="1060.7" cy="2137.75" r="58" fill="#fff"/>
<g transform="translate(1060.7,2137.75)" clip-path="url(#fc)"><rect x="-45" y="-45" width="90" height="45" fill="#fff"/><rect x="-45" y="0" width="90" height="45" fill="#A30000"/><rect x="-45" y="-45" width="46" height="45" fill="#2B3A9E"/><path d="M-19.50,-29.50 L-17.25,-22.59 L-9.99,-22.59 L-15.87,-18.32 L-13.62,-11.41 L-19.50,-15.68 L-25.38,-11.41 L-23.13,-18.32 L-29.01,-22.59 L-21.75,-22.59Z" fill="#fff"/></g>
<text x="1155.4" y="2155.5" font-family="Liberation Sans" font-weight="bold" font-size="48" fill="#fff" textLength="132.6" lengthAdjust="spacingAndGlyphs">CHILE</text>
</g>
<g>
<rect x="1909.2" y="2177" width="548.4" height="117.5" rx="58.75" fill="#fff"/>
<path d="M1967.2,2181 H2398.8 A54.75,54.75 0 0 1 2398.8,2290.5 H1967.2 Z" fill="url(#pg)"/>
<circle cx="1967.2" cy="2235.75" r="58" fill="#fff"/>
<g transform="translate(1967.2,2235.75)" clip-path="url(#fc)"><circle r="45" fill="#fff"/><path d="M-51.6 -60 L60 -60 L60 -15.4 L14.1 -15.4 Z" fill="#B12023"/><path d="M-51.6 60 L60 60 L60 15.6 L14.1 15.6 Z" fill="#1E2190"/><path d="M-60 -57.6 L13 -8.9 L60 -8.9 L60 8.9 L13 8.9 L-60 57.6 L-60 33 L-6.3 0 L-60 -33 Z" fill="#527C50"/><path d="M-60 -33 L-6.3 0 L-60 33 Z" fill="#E3AE00"/><path d="M-60 -27.9 L-17.1 0 L-60 27.9 Z" fill="#000"/></g>
<text x="2062.6" y="2253.5" font-family="Liberation Sans" font-weight="bold" font-size="48" fill="#fff" textLength="326.7" lengthAdjust="spacingAndGlyphs">SOUTH AFRICA</text>
</g>
<g>
<rect x="2876.5" y="2053" width="459.5" height="117.5" rx="58.75" fill="#fff"/>
<path d="M2934.5,2057 H3277.2 A54.75,54.75 0 0 1 3277.2,2166.5 H2934.5 Z" fill="url(#pg)"/>
<circle cx="2934.5" cy="2111.75" r="58" fill="#fff"/>
<g transform="translate(2934.5,2111.75)" clip-path="url(#fc)"><circle r="45" fill="#1F2770"/><g><rect x="-47" y="-28" width="54" height="28.5" fill="#1F2770"/><path d="M-47 -28 L7 0.5 M7 -28 L-47 0.5" stroke="#fff" stroke-width="5.70"/><path d="M-47 -28 L7 0.5 M7 -28 L-47 0.5" stroke="#C8102E" stroke-width="2.00"/><path d="M-20.0 -28 V0.5 M-47 -13.75 H7" stroke="#fff" stroke-width="9.69"/><path d="M-20.0 -28 V0.5 M-47 -13.75 H7" stroke="#C8102E" stroke-width="5.70"/></g><path d="M-22.00,6.00 L-20.44,10.76 L-15.75,9.01 L-18.49,13.20 L-14.20,15.78 L-19.19,16.24 L-18.53,21.21 L-22.00,17.60 L-25.47,21.21 L-24.81,16.24 L-29.80,15.78 L-25.51,13.20 L-28.25,9.01 L-23.56,10.76Z" fill="#fff"/><path d="M23.50,-22.60 L24.20,-20.46 L26.31,-21.24 L25.08,-19.36 L27.01,-18.20 L24.77,-17.99 L25.06,-15.76 L23.50,-17.38 L21.94,-15.76 L22.23,-17.99 L19.99,-18.20 L21.92,-19.36 L20.69,-21.24 L22.80,-20.46Z" fill="#fff"/><path d="M35.50,-10.60 L36.20,-8.46 L38.31,-9.24 L37.08,-7.36 L39.01,-6.20 L36.77,-5.99 L37.06,-3.76 L35.50,-5.38 L33.94,-3.76 L34.23,-5.99 L31.99,-6.20 L33.92,-7.36 L32.69,-9.24 L34.80,-8.46Z" fill="#fff"/><path d="M14.00,-6.70 L14.62,-4.80 L16.50,-5.50 L15.40,-3.82 L17.12,-2.79 L15.13,-2.60 L15.39,-0.62 L14.00,-2.06 L12.61,-0.62 L12.87,-2.60 L10.88,-2.79 L12.60,-3.82 L11.50,-5.50 L13.38,-4.80Z" fill="#fff"/><path d="M29.50,0.50 L29.89,1.69 L31.06,1.25 L30.38,2.30 L31.45,2.95 L30.20,3.06 L30.37,4.30 L29.50,3.40 L28.63,4.30 L28.80,3.06 L27.55,2.95 L28.62,2.30 L27.94,1.25 L29.11,1.69Z" fill="#fff"/><path d="M23.50,14.90 L24.20,17.04 L26.31,16.26 L25.08,18.14 L27.01,19.30 L24.77,19.51 L25.06,21.74 L23.50,20.12 L21.94,21.74 L22.23,19.51 L19.99,19.30 L21.92,18.14 L20.69,16.26 L22.80,17.04Z" fill="#fff"/></g>
<text x="3029.0" y="2129.5" font-family="Liberation Sans" font-weight="bold" font-size="48" fill="#fff" textLength="244.0" lengthAdjust="spacingAndGlyphs">AUSTRALIA</text>
</g>
<g>
<rect x="1203.6" y="2307" width="478.0" height="117.5" rx="58.75" fill="#fff"/>
<path d="M1261.6,2311 H1622.8 A54.75,54.75 0 0 1 1622.8,2420.5 H1261.6 Z" fill="url(#pg)"/>
<circle cx="1261.6" cy="2365.75" r="58" fill="#fff"/>
<g transform="translate(1261.6,2365.75)" clip-path="url(#fc)"><rect x="-45" y="-45" width="90" height="30" fill="#88A6DD"/><rect x="-45" y="-15" width="90" height="30" fill="#fff"/><rect x="-45" y="15" width="90" height="30" fill="#88A6DD"/><path d="M4.00,0.00 L12.50,0.00 M3.92,0.78 L10.79,2.15 M3.70,1.53 L11.55,4.78 M3.33,2.22 L9.15,6.11 M2.83,2.83 L8.84,8.84 M2.22,3.33 L6.11,9.15 M1.53,3.70 L4.78,11.55 M0.78,3.92 L2.15,10.79 M0.00,4.00 L0.00,12.50 M-0.78,3.92 L-2.15,10.79 M-1.53,3.70 L-4.78,11.55 M-2.22,3.33 L-6.11,9.15 M-2.83,2.83 L-8.84,8.84 M-3.33,2.22 L-9.15,6.11 M-3.70,1.53 L-11.55,4.78 M-3.92,0.78 L-10.79,2.15 M-4.00,0.00 L-12.50,0.00 M-3.92,-0.78 L-10.79,-2.15 M-3.70,-1.53 L-11.55,-4.78 M-3.33,-2.22 L-9.15,-6.11 M-2.83,-2.83 L-8.84,-8.84 M-2.22,-3.33 L-6.11,-9.15 M-1.53,-3.70 L-4.78,-11.55 M-0.78,-3.92 L-2.15,-10.79 M-0.00,-4.00 L-0.00,-12.50 M0.78,-3.92 L2.15,-10.79 M1.53,-3.70 L4.78,-11.55 M2.22,-3.33 L6.11,-9.15 M2.83,-2.83 L8.84,-8.84 M3.33,-2.22 L9.15,-6.11 M3.70,-1.53 L11.55,-4.78 M3.92,-0.78 L10.79,-2.15" stroke="#7B4511" stroke-width="1.3"/><circle r="5.6" fill="#7B4511"/><circle r="4.7" fill="#E2B000"/></g>
<text x="1356.3" y="2383.5" font-family="Liberation Sans" font-weight="bold" font-size="48" fill="#fff" textLength="259.0" lengthAdjust="spacingAndGlyphs">ARGENTINA</text>
</g>
<g>
<rect x="3242" y="2294" width="520.6" height="117.5" rx="58.75" fill="#fff"/>
<path d="M3300,2298 H3703.8 A54.75,54.75 0 0 1 3703.8,2407.5 H3300 Z" fill="url(#pg)"/>
<circle cx="3300" cy="2352.75" r="58" fill="#fff"/>
<g transform="translate(3300,2352.75)" clip-path="url(#fc)"><circle r="45" fill="#1F2770"/><g><rect x="-47" y="-27.5" width="52" height="28.5" fill="#1F2770"/><path d="M-47 -27.5 L5 1.0 M5 -27.5 L-47 1.0" stroke="#fff" stroke-width="5.70"/><path d="M-47 -27.5 L5 1.0 M5 -27.5 L-47 1.0" stroke="#C8102E" stroke-width="2.00"/><path d="M-21.0 -27.5 V1.0 M-47 -13.25 H5" stroke="#fff" stroke-width="9.69"/><path d="M-21.0 -27.5 V1.0 M-47 -13.25 H5" stroke="#C8102E" stroke-width="5.70"/></g><path d="M25.40,-21.60 L26.43,-18.42 L29.77,-18.42 L27.07,-16.46 L28.10,-13.28 L25.40,-15.24 L22.70,-13.28 L23.73,-16.46 L21.03,-18.42 L24.37,-18.42Z" fill="#fff"/><path d="M25.40,-19.85 L26.04,-17.88 L28.11,-17.88 L26.44,-16.66 L27.08,-14.69 L25.40,-15.91 L23.72,-14.69 L24.36,-16.66 L22.69,-17.88 L24.76,-17.88Z" fill="#C8102E"/><path d="M35.80,-11.20 L36.74,-8.30 L39.79,-8.30 L37.33,-6.50 L38.27,-3.60 L35.80,-5.40 L33.33,-3.60 L34.27,-6.50 L31.81,-8.30 L34.86,-8.30Z" fill="#fff"/><path d="M35.80,-9.60 L36.38,-7.80 L38.28,-7.80 L36.75,-6.69 L37.33,-4.89 L35.80,-6.01 L34.27,-4.89 L34.85,-6.69 L33.32,-7.80 L35.22,-7.80Z" fill="#C8102E"/><path d="M12.40,-7.90 L13.34,-5.00 L16.39,-5.00 L13.93,-3.20 L14.87,-0.30 L12.40,-2.10 L9.93,-0.30 L10.87,-3.20 L8.41,-5.00 L11.46,-5.00Z" fill="#fff"/><path d="M12.40,-6.30 L12.98,-4.50 L14.88,-4.50 L13.35,-3.39 L13.93,-1.59 L12.40,-2.71 L10.87,-1.59 L11.45,-3.39 L9.92,-4.50 L11.82,-4.50Z" fill="#C8102E"/><path d="M25.40,11.40 L26.48,14.72 L29.97,14.72 L27.14,16.77 L28.22,20.08 L25.40,18.03 L22.58,20.08 L23.66,16.77 L20.83,14.72 L24.32,14.72Z" fill="#fff"/><path d="M25.40,13.22 L26.07,15.28 L28.23,15.28 L26.48,16.55 L27.15,18.61 L25.40,17.34 L23.65,18.61 L24.32,16.55 L22.57,15.28 L24.73,15.28Z" fill="#C8102E"/></g>
<text x="3397.0" y="2370.5" font-family="Liberation Sans" font-weight="bold" font-size="48" fill="#fff" textLength="315.4" lengthAdjust="spacingAndGlyphs">NEW ZEALAND</text>
</g>
<rect x="150" y="2316" width="680" height="347" rx="22" fill="#fff"/>
<circle cx="272" cy="2467" r="53.5" fill="#9AE76E"/>
<circle cx="274.6" cy="2438.4" r="7.6" fill="#2A0055"/>
<path d="M258.8 2462.8 L273.3 2457.2 L268.6 2490.5 Q267.6 2500.8 278.2 2497" fill="none" stroke="#2A0055" stroke-width="12.5" stroke-linecap="round" stroke-linejoin="round"/>
<text x="363" y="2448" font-family="Liberation Sans" font-style="italic" font-size="38" fill="#2A0055" textLength="327" lengthAdjust="spacingAndGlyphs">Select a country or</text>
<text x="363" y="2497" font-family="Liberation Sans" font-style="italic" font-size="38" fill="#2A0055" textLength="328" lengthAdjust="spacingAndGlyphs">area on the map to</text>
<text x="363" y="2546" font-family="Liberation Sans" font-style="italic" font-size="38" fill="#2A0055" textLength="184.5" lengthAdjust="spacingAndGlyphs">learn more</text>
<text x="145" y="2787.5" font-family="Liberation Sans" font-size="31" fill="#2A0055" textLength="1715" lengthAdjust="spacingAndGlyphs">For use by Medical for scientific exchange and medical discussions only. Do not photograph, copy or distribute.</text>
<text x="147" y="2842.5" font-family="Liberation Sans" font-size="31" fill="#2A0055" textLength="525" lengthAdjust="spacingAndGlyphs">© 2024 Sanofi. All rights reserved.</text>
<text x="150" y="2898" font-family="Liberation Sans" font-weight="bold" font-size="31" fill="#2A0055" textLength="370" lengthAdjust="spacingAndGlyphs">African meningitis belt:</text>
<text x="522" y="2898" font-family="Liberation Sans" font-size="31" fill="#2A0055" textLength="1391" lengthAdjust="spacingAndGlyphs">Countries in the southern sub-Saharan zone such as Ghana, Niger, Nigeria, Senegal, Sudan</text>
<text x="145.5" y="2953" font-family="Liberation Sans" font-weight="bold" font-size="31" fill="#2A0055" textLength="555" lengthAdjust="spacingAndGlyphs">MAT-US-2406008 v1.0 EXP 7/2026</text>
<g fill="#2A0055">
<path d="M3672.4,2901.2 C3668,2898.6 3660,2894 3648.5,2894 C3633.6,2894 3629.2,2901.6 3629.2,2908.5 C3629.2,2918.5 3643.5,2920.5 3653.5,2924.4 C3667.4,2929.4 3669.8,2935.4 3669.8,2942.3 L3669.4,2951.3" fill="none" stroke="#2A0055" stroke-width="16"/>
<circle cx="3628.6" cy="2943.3" r="9"/>
<path fill-rule="evenodd" d="M3746.6,2893.6 L3746.6,2944.3 Q3746.6,2946 3743,2948 C3735,2951 3722,2952.3 3716,2952.3 C3698,2952.3 3686.3,2937 3686.3,2919.5 C3686.3,2900 3698,2886.6 3716,2886.6 C3725,2886.6 3737,2888.6 3743,2891 Q3746.6,2892.5 3746.6,2895 Z M3730.7,2905 L3730.7,2934 Q3730.7,2935.5 3728,2936.5 C3724,2937.4 3720,2937.4 3716,2937.4 C3708,2937.4 3702.8,2930 3702.8,2919.5 C3702.8,2909 3708,2901.6 3716,2901.6 C3720,2901.6 3725,2902 3728,2903 Q3730.7,2903.5 3730.7,2905 Z"/>
<path d="M3761.9,2951.3 L3761.9,2893 Q3761.9,2890.5 3764,2890 C3772,2888 3782,2886.6 3789,2886.6 C3808,2886.6 3819.6,2898 3819.6,2912 L3819.6,2949.5 Q3819.6,2951.3 3818,2951.3 L3804.5,2951.3 Q3802.8,2951.3 3802.8,2949.5 L3802.8,2914 C3802.8,2906 3798,2901.6 3790,2901.6 C3786,2901.6 3782,2902 3779,2903 L3779,2949.5 Q3779,2951.3 3777,2951.3 L3763.7,2951.3 Q3761.9,2951.3 3761.9,2949.5 Z"/>
<path fill-rule="evenodd" d="M3831,2919.5 A32.1,32.8 0 1 0 3895.2,2919.5 A32.1,32.8 0 1 0 3831,2919.5 Z M3848,2919.5 A15.1,17.9 0 1 0 3878.2,2919.5 A15.1,17.9 0 1 0 3848,2919.5 Z"/>
<path d="M3907.1,2951.3 L3907.1,2888 C3907.1,2872 3917,2862.8 3932,2862.8 C3936,2862.8 3940,2863.3 3943,2864.5 L3941,2876.5 C3938,2876 3936,2876 3933,2876 C3926,2876 3923,2880 3923,2888 L3923,2888.6 L3939.5,2888.6 Q3941.5,2888.6 3941.5,2890.5 L3941.5,2899.6 Q3941.5,2901.6 3939.5,2901.6 L3923,2901.6 L3923,2949.5 Q3923,2951.3 3921,2951.3 L3909,2951.3 Q3907.1,2951.3 3907.1,2949.5 Z"/>
<rect x="3950.9" y="2887.6" width="16.9" height="63.7" rx="2"/>
<circle cx="3959.4" cy="2871.3" r="9"/>
</g>
</svg></body></html>
